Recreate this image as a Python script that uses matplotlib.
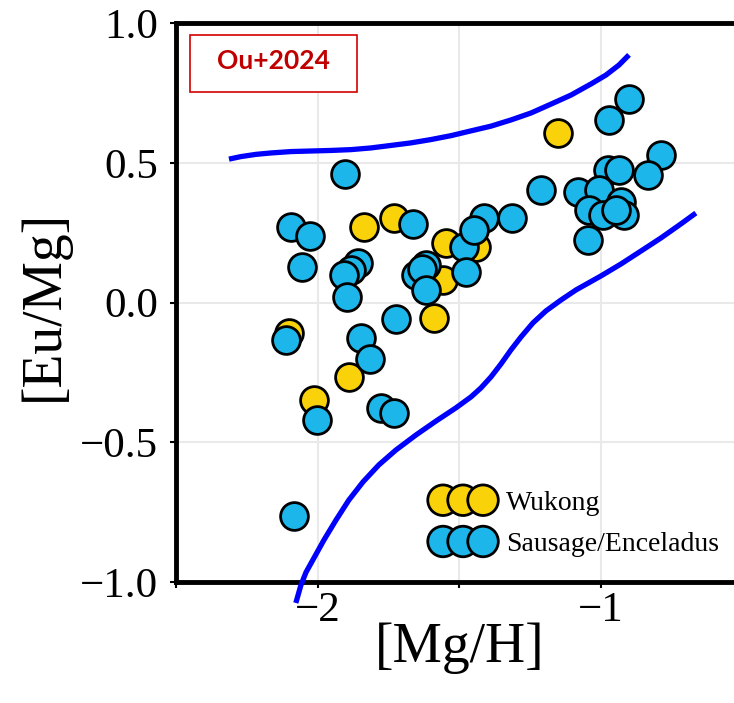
import matplotlib
matplotlib.use("Agg")
import matplotlib.pyplot as plt
from matplotlib.patches import Rectangle

# ---- data ----
wukong_mgh = [-1.835, -1.732, -1.547, -1.441, -1.559, -1.588, -2.100, -1.888, -2.012, -1.153]
wukong_eumg = [0.271, 0.301, 0.214, 0.200, 0.080, -0.057, -0.110, -0.268, -0.349, 0.608]

gse_mgh = [-1.903, -2.094, -2.026, -2.055, -1.665, -1.859, -1.882, -1.906, -1.897, -1.653,
           -1.618, -1.630, -1.618, -1.483, -1.477, -1.414, -1.447, -1.315, -1.724, -2.112,
           -1.847, -1.814, -2.002, -1.777, -1.730, -2.083, -0.900, -0.971, -0.788, -0.835,
           -0.976, -0.935, -1.212, -1.082, -1.006, -1.041, -0.929, -0.994, -0.918, -0.947,
           -1.047]
gse_eumg = [0.459, 0.271, 0.239, 0.128, 0.281, 0.142, 0.116, 0.098, 0.021, 0.098,
            0.134, 0.120, 0.045, 0.200, 0.110, 0.301, 0.259, 0.301, -0.060, -0.134,
            -0.128, -0.203, -0.420, -0.379, -0.394, -0.764, 0.727, 0.653, 0.528, 0.456,
            0.474, 0.474, 0.403, 0.397, 0.403, 0.331, 0.361, 0.313, 0.313, 0.331,
            0.224]

upper_x = [-2.313, -2.271, -2.218, -2.165, -2.094, -2.024, -1.953, -1.882, -1.812,
           -1.741, -1.671, -1.600, -1.529, -1.459, -1.388, -1.318, -1.247, -1.176,
           -1.106, -1.035, -0.982, -0.936, -0.901]
upper_y = [0.513, 0.522, 0.530, 0.535, 0.540, 0.542, 0.544, 0.547, 0.553,
           0.562, 0.571, 0.583, 0.597, 0.614, 0.631, 0.653, 0.678, 0.710,
           0.742, 0.782, 0.814, 0.850, 0.886]

lower_x = [-2.077, -2.059, -2.041, -2.013, -1.978, -1.935, -1.890, -1.840, -1.784,
           -1.724, -1.653, -1.582, -1.512, -1.459, -1.424, -1.388, -1.353, -1.318,
           -1.282, -1.240, -1.194, -1.141, -1.088, -1.000, -0.929, -0.859, -0.788,
           -0.718, -0.665]
lower_y = [-1.075, -1.011, -0.965, -0.914, -0.850, -0.778, -0.707, -0.642, -0.581,
           -0.528, -0.474, -0.424, -0.377, -0.338, -0.306, -0.266, -0.220, -0.170,
           -0.123, -0.073, -0.030, 0.009, 0.045, 0.095, 0.138, 0.184, 0.231,
           0.281, 0.320]

xticks = [-2.5, -2.0, -1.5, -1.0, -0.5]
xticklabels = ["", "\u22122", "", "\u22121", ""]
yticks = [-1.0, -0.5, 0.0, 0.5, 1.0]
yticklabels = ["\u22121.0", "\u22120.5", "0.0", "0.5", "1.0"]

labels = ["Wukong", "Sausage/Enceladus"]
tag = "Ou+2024"

# ---- figure ----
W, H = 734, 703
fig = plt.figure(figsize=(W / 100, H / 100), dpi=100)
ax_left, ax_bottom = 176 / W, (H - 582) / H
ax_w, ax_h = 566.6 / W, 559 / H
ax = fig.add_axes([ax_left, ax_bottom, ax_w, ax_h])

serif = "Liberation Serif"
yellow = "#fad20a"
blue = "#1cb6ea"

ax.scatter(wukong_mgh, wukong_eumg, s=400, c=yellow, edgecolors="black",
           linewidths=2.0, zorder=3, label=labels[0])
ax.scatter(gse_mgh, gse_eumg, s=400, c=blue, edgecolors="black",
           linewidths=2.0, zorder=3, label=labels[1])

for xs, ys in [(upper_x, upper_y), (lower_x, lower_y)]:
    ax.plot(xs, ys, color="#0000ff", lw=3.8, zorder=4, clip_on=False,
            solid_capstyle="butt", solid_joinstyle="round")

ax.set_xlim(-2.5, -0.5)
ax.set_ylim(-1.0, 1.0)
ax.set_xticks(xticks)
ax.set_xticklabels(xticklabels, fontfamily=serif, fontsize=31)
ax.set_yticks(yticks)
ax.set_yticklabels(yticklabels, fontfamily=serif, fontsize=31)
ax.tick_params(direction="out", length=4, width=1.5, colors="black")
ax.tick_params(axis="x", pad=3)
ax.tick_params(axis="y", pad=9)
ax.grid(True, color="#e9e9e9", lw=1.5, zorder=0)
ax.set_axisbelow(True)
for side in ["left", "bottom", "top", "right"]:
    ax.spines[side].set_linewidth(3.5)

ax.set_xlabel("[Mg/H]", fontfamily=serif, fontsize=40)
ax.set_ylabel("[Eu/Mg]", fontfamily=serif, fontsize=40)
ax.xaxis.set_label_coords(0.501, -0.072)
ax.yaxis.set_label_coords(-0.187, 0.494)

leg = ax.legend(loc="center left", bbox_to_anchor=(0.4566, 0.104), frameon=False,
                scatterpoints=3, scatteryoffsets=[0.5], markerscale=1.1,
                handlelength=2.04, handletextpad=0.52, labelspacing=0.57,
                borderpad=0, borderaxespad=0,
                prop={"family": serif, "size": 20})

# tag box
rect = Rectangle((190 / W, 1 - 92 / H), 167 / W, 57 / H, transform=fig.transFigure,
                 facecolor="white", edgecolor="#d40000", lw=1.2, zorder=10)
fig.patches.append(rect)
fig.text(273.5 / W, 1 - 61 / H, tag, color="#c00000", fontfamily="Lato",
         fontweight="bold", fontsize=19, ha="center", va="center", zorder=11)

fig.savefig("out.png", dpi=100)
